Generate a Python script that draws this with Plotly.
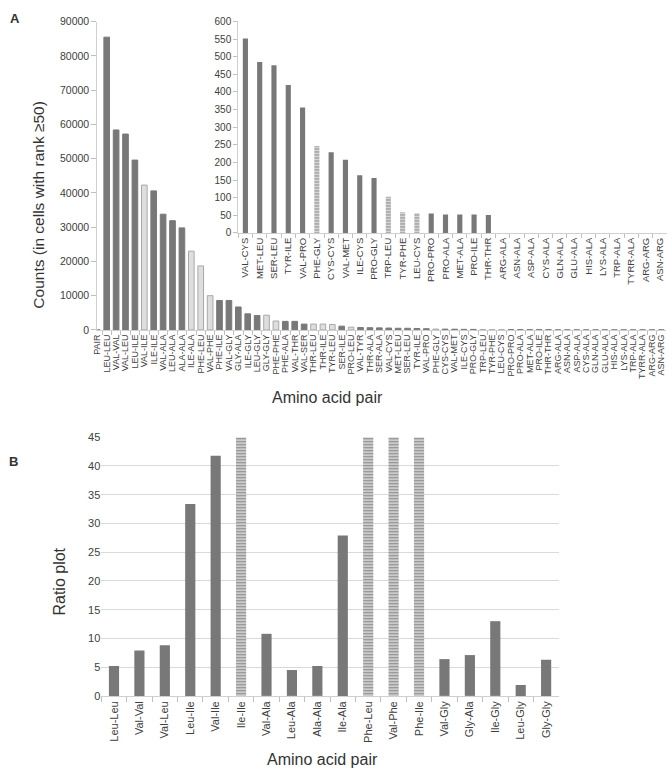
import plotly.graph_objects as go

W, H = 672, 778

# ---------------- Data: panel A (main) ----------------
pairs_a = ["PAIR", "LEU-LEU", "VAL-VAL", "VAL-LEU", "LEU-ILE", "VAL-ILE", "ILE-ILE", "VAL-ALA",
           "LEU-ALA", "ALA-ALA", "ILE-ALA", "PHE-LEU", "VAL-PHE", "PHE-ILE", "VAL-GLY", "GLY-ALA",
           "ILE-GLY", "LEU-GLY", "GLY-GLY", "PHE-PHE", "PHE-ALA", "VAL-THR", "VAL-SER", "THR-LEU",
           "THR-ILE", "TYR-LEU", "SER-ILE", "PRO-LEU", "VAL-TYR", "THR-ALA", "SER-ALA", "VAL-CYS",
           "MET-LEU", "SER-LEU", "TYR-ILE", "VAL-PRO", "PHE-GLY", "CYS-CYS", "VAL-MET", "ILE-CYS",
           "PRO-GLY", "TRP-LEU", "TYR-PHE", "LEU-CYS", "PRO-PRO", "PRO-ALA", "MET-ALA", "PRO-ILE",
           "THR-THR", "ARG-ALA", "ASN-ALA", "ASP-ALA", "CYS-ALA", "GLN-ALA", "GLU-ALA", "HIS-ALA",
           "LYS-ALA", "TRP-ALA", "TYRR-ALA", "ARG-ARG", "ASN-ARG"]
counts_a = [0, 85500, 58400, 57200, 49600, 42300, 40600, 33800,
            31900, 29800, 23000, 18700, 10000, 8600, 8600, 6700,
            4700, 4200, 4300, 2600, 2500, 2500, 1700, 1700,
            1700, 1600, 1100, 800, 700, 650, 600, 552,
            485, 476, 420, 356, 247, 229, 208, 164,
            156, 103, 59, 56, 55, 52, 52, 52,
            51, 0, 0, 0, 0, 0, 0, 0,
            0, 0, 0, 0, 0]
highlight_a = ["VAL-ILE", "ILE-ALA", "PHE-LEU", "VAL-PHE", "GLY-GLY", "PHE-PHE", "THR-LEU",
               "THR-ILE", "TYR-LEU", "PRO-LEU", "PHE-GLY", "TRP-LEU", "TYR-PHE", "LEU-CYS"]

# ---------------- Data: panel A (inset, counts < 600) ----------------
pairs_inset = ["VAL-CYS", "MET-LEU", "SER-LEU", "TYR-ILE", "VAL-PRO", "PHE-GLY", "CYS-CYS",
               "VAL-MET", "ILE-CYS", "PRO-GLY", "TRP-LEU", "TYR-PHE", "LEU-CYS", "PRO-PRO",
               "PRO-ALA", "MET-ALA", "PRO-ILE", "THR-THR", "ARG-ALA", "ASN-ALA", "ASP-ALA",
               "CYS-ALA", "GLN-ALA", "GLU-ALA", "HIS-ALA", "LYS-ALA", "TRP-ALA", "TYRR-ALA",
               "ARG-ARG", "ASN-ARG"]
counts_inset = [552, 485, 476, 420, 356, 247, 229,
                208, 164, 156, 103, 59, 56, 55,
                52, 52, 52, 51, 0, 0, 0,
                0, 0, 0, 0, 0, 0, 0,
                0, 0]

# ---------------- Data: panel B ----------------
pairs_b = ["Leu-Leu", "Val-Val", "Val-Leu", "Leu-Ile", "Val-Ile", "Ile-Ile", "Val-Ala", "Leu-Ala",
           "Ala-Ala", "Ile-Ala", "Phe-Leu", "Val-Phe", "Phe-Ile", "Val-Gly", "Gly-Ala", "Ile-Gly",
           "Leu-Gly", "Gly-Gly"]
ratio_b = [5.2, 7.9, 8.8, 33.4, 41.8, 45, 10.8, 4.5,
           5.2, 27.9, 45, 45, 45, 6.4, 7.1, 13.0,
           1.9, 6.3]
highlight_b = ["Ile-Ile", "Phe-Leu", "Val-Phe", "Phe-Ile"]

# ---------------- Styling ----------------
DARK = "#787878"
LIGHT = "#dedede"
LIGHT_EDGE = "#a8a8a8"
AXIS = "#d0d0d0"
TICKC = "#bfbfbf"
TXT = "#404040"
FONT_A = "Liberation Sans, Arial, sans-serif"
FONT_B = "Liberation Sans, Arial, sans-serif"


def px(x):
    return x / W


def py(y):
    return 1 - y / H


fig = go.Figure()

# main panel A
fig.add_trace(go.Bar(
    x=pairs_a, y=counts_a, xaxis="x", yaxis="y", width=0.6,
    marker=dict(
        color=[LIGHT if p in highlight_a else DARK for p in pairs_a],
        line=dict(color=[LIGHT_EDGE if p in highlight_a else DARK for p in pairs_a], width=1),
    ),
    showlegend=False, hoverinfo="x+y",
))

# inset
fig.add_trace(go.Bar(
    x=pairs_inset, y=counts_inset, xaxis="x2", yaxis="y2", width=0.36,
    marker=dict(
        color=["#dadada" if p in highlight_a else DARK for p in pairs_inset],
        line=dict(width=0),
        pattern=dict(
            shape=["-" if p in highlight_a else "" for p in pairs_inset],
            fgcolor="#c4c4c4", size=3, solidity=0.4, fillmode="overlay",
        ),
    ),
    showlegend=False, hoverinfo="x+y",
))

# panel B
fig.add_trace(go.Bar(
    x=pairs_b, y=ratio_b, xaxis="x3", yaxis="y3", width=0.4,
    marker=dict(
        color=["#d2d2d2" if p in highlight_b else DARK for p in pairs_b],
        line=dict(width=0),
        pattern=dict(
            shape=["-" if p in highlight_b else "" for p in pairs_b],
            fgcolor="#bcbcbc", size=3, solidity=0.4, fillmode="overlay",
        ),
    ),
    showlegend=False, hoverinfo="x+y",
))

common_x = dict(type="category", ticks="outside", tickson="boundaries", tickcolor=TICKC,
                showline=True, linecolor=AXIS, linewidth=1, showgrid=False, zeroline=False,
                tickangle=-90, fixedrange=True, tickmode="linear", tick0=0, dtick=1)
common_y = dict(ticks="outside", tickcolor=TICKC, showgrid=False, zeroline=False,
                fixedrange=True, tickformat="d")

fig.update_layout(
    width=W, height=H, margin=dict(l=0, r=0, t=0, b=0),
    paper_bgcolor="white", plot_bgcolor="rgba(0,0,0,0)",
    bargap=0.4,
    xaxis=dict(common_x, domain=[px(93), px(666)], anchor="y", range=[0, 60.5], ticklen=4,
               tickfont=dict(family=FONT_A, size=9, color=TXT)),
    yaxis=dict(common_y, domain=[py(329), py(16)], anchor="x", range=[0, 90000], dtick=10000,
               showline=True, linecolor=AXIS, ticklen=5,
               tickfont=dict(family=FONT_A, size=10.5, color=TXT)),
    xaxis2=dict(common_x, domain=[px(235), px(667)], anchor="y2", range=[-0.5, 29.5], ticklen=4,
                tickfont=dict(family=FONT_A, size=9.5, color=TXT)),
    yaxis2=dict(common_y, domain=[py(230.5), py(15.7)], anchor="x2", range=[0, 600], dtick=50,
                showline=True, linecolor=AXIS, ticklen=4,
                tickfont=dict(family=FONT_A, size=10, color=TXT)),
    xaxis3=dict(common_x, domain=[px(97), px(558)], anchor="y3", range=[-0.5, 17.5], ticklen=5,
                tickfont=dict(family=FONT_B, size=11, color=TXT)),
    yaxis3=dict(common_y, domain=[py(700.7), py(438)], anchor="x3", range=[0, 45], dtick=5,
                showgrid=True, gridcolor="#d9d9d9", showline=False, ticks="", ticklen=0,
                tickfont=dict(family=FONT_B, size=11, color=TXT)),
)

annots = [
    ("<b>A</b>", 10, 13, 0, 13, FONT_A),
    ("<b>B</b>", 9, 463, 0, 13, FONT_A),
    ("Counts (in cells with rank \u226550)", 34, 202, -90, 15.5, FONT_A),
    ("Amino acid pair", 325, 398, 0, 16, FONT_A),
    ("Ratio plot", 55, 585, -90, 16, FONT_B),
    ("Amino acid pair", 320, 765, 0, 16, FONT_B),
]
for text, x, y, ang, size, fam in annots:
    fig.add_annotation(text=text, x=px(x), y=py(y), xref="paper", yref="paper",
                       xanchor="center", yanchor="middle", showarrow=False, textangle=ang,
                       font=dict(family=fam, size=size, color="#333"))

fig.write_html("out.html", config={"displayModeBar": False},
               post_script="document.body.style.margin='0';document.body.style.overflow='hidden';")
